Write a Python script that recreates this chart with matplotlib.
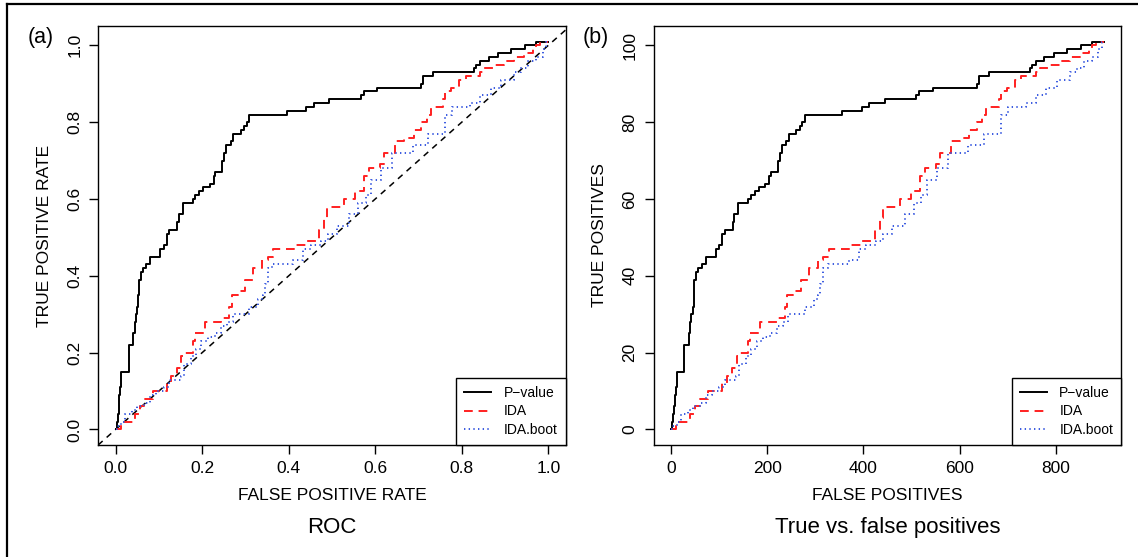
import numpy as np
import matplotlib.pyplot as plt
from matplotlib.lines import Line2D

plt.rcParams['font.family'] = ['Liberation Sans', 'DejaVu Sans']

# counts of false / true positives along each ranking (step points)
pval_fp = [0, 2, 4, 6, 8, 10, 12, 26, 28, 35, 37, 40, 42, 45, 47, 49, 52, 56, 64, 72, 90,
           93, 100, 106, 112, 125, 128, 131, 140, 156, 160, 166, 174, 182, 196, 204, 207,
           220, 222, 226, 230, 240, 245, 260, 268, 273, 278, 356, 397, 412, 444, 510, 516,
           544, 636, 640, 661, 746, 750, 758, 776, 795, 823, 851, 875, 899]
pval_tp = [0, 2, 4, 6, 9, 11, 15, 15, 22, 22, 25, 28, 30, 32, 35, 39, 41, 42, 43, 45, 45,
           47, 48, 51, 52, 52, 54, 56, 59, 59, 60, 61, 62, 63, 64, 66, 67,
           67, 70, 72, 74, 75, 77, 78, 79, 80, 82, 83, 84, 85, 86, 87, 88,
           89, 90, 92, 93, 94, 95, 96, 97, 98, 99, 100, 101, 101]

ida_fp = [0, 11, 40, 50, 60, 77, 107, 116, 127, 137, 141, 160, 165, 186, 220, 236, 242,
          254, 270, 286, 305, 316, 328, 372, 395, 424, 434, 440, 476, 498, 517, 528, 550,
          559, 582, 600, 620, 635, 647, 655, 682, 686, 698, 714, 728, 758, 767, 787, 808,
          829, 849, 868, 875, 883, 899]
ida_tp = [0, 2, 4, 6, 8, 10, 12, 14, 16, 19, 20, 23, 25, 28, 29, 32, 35,
          36, 39, 42, 44, 45, 47, 48, 49, 52, 55, 58, 60, 62, 66, 68, 69,
          72, 75, 76, 78, 80, 82, 84, 86, 88, 89, 91, 92, 93, 94, 95, 96,
          97, 98, 99, 100, 101, 101]

boot_fp = [0, 3, 12, 20, 35, 45, 60, 72, 85, 100, 112, 136, 142, 157, 167, 178, 192, 206,
           220, 232, 244, 278, 297, 306, 310, 316, 326, 370, 390, 406, 427, 441, 460, 486,
           505, 520, 532, 552, 575, 618, 650, 685, 700, 737, 758, 780, 802, 828, 843, 858,
           875, 888, 896, 899]
boot_tp = [0, 1, 2, 4, 5, 6, 7, 9, 10, 11, 13, 14, 17, 19, 21, 23, 24, 25,
           27, 28, 30, 32, 34, 35, 38, 42, 43, 44, 47, 48, 49, 51, 53, 56,
           59, 61, 65, 68, 72, 74, 77, 82, 84, 85, 87, 89, 91, 93, 94, 96,
           97, 99, 101, 101]

n_fp = 900
n_tp = 100

series = [
    ("P\u2212value", pval_fp, pval_tp, "black", None),
    ("IDA", ida_fp, ida_tp, "#ff2020", (0, (4.5, 3.0))),
    ("IDA.boot", boot_fp, boot_tp, "#3a5ae0", (0, (0.7, 1.7))),
]

fig = plt.figure(figsize=(11.38, 5.57), dpi=100)
ax1 = fig.add_axes([0.0864, 0.2011, 0.4106, 0.7522])
ax2 = fig.add_axes([0.5743, 0.2011, 0.4112, 0.7522])


def draw_panel(ax, xscale, yscale, xlabel, ylabel, title, tag):
    for name, fp, tp, col, ls in series:
        x = np.array(fp) / xscale
        y = np.array(tp) / yscale
        if ls is None:
            ax.plot(x, y, color=col, lw=1.4, drawstyle='steps-post', label=name)
        else:
            ax.plot(x, y, color=col, lw=1.4, linestyle=ls, drawstyle='steps-post', label=name)
    leg = ax.legend(loc='lower right', borderaxespad=0, fancybox=False, framealpha=1,
                    edgecolor='black', fontsize=10, handlelength=1.9, handletextpad=0.9,
                    labelspacing=0.3, borderpad=0.6)
    leg.get_frame().set_linewidth(1.0)
    ax.set_xlabel(xlabel, fontsize=12.5, labelpad=8.5)
    ax.set_ylabel(ylabel, fontsize=12.5, labelpad=11)
    ax.tick_params(direction='out', length=6.5, width=1, labelsize=12.5, pad=5)
    for s in ax.spines.values():
        s.set_linewidth(1.0)
    pos = ax.get_position()
    fig.text((pos.x0 + pos.x1) / 2, 0.053, title, ha='center', va='center', fontsize=16)
    fig.text(pos.x0 - 0.0505, 0.933, tag, ha='center', va='center', fontsize=15.5)


draw_panel(ax1, n_fp, n_tp, "FALSE POSITIVE RATE", "TRUE POSITIVE RATE", "ROC", "(a)")
ax1.plot([-0.1, 1.2], [-0.1, 1.2], color='black', lw=1.1, linestyle=(0, (4, 3.5)), zorder=1)
ax1.set_xlim(-0.04, 1.04)
ax1.set_ylim(-0.0404, 1.0504)
ax1.set_xticks([0.0, 0.2, 0.4, 0.6, 0.8, 1.0])
ax1.set_xticklabels(["0.0", "0.2", "0.4", "0.6", "0.8", "1.0"])
ax1.set_yticks([0.0, 0.2, 0.4, 0.6, 0.8, 1.0])
ax1.set_yticklabels(["0.0", "0.2", "0.4", "0.6", "0.8", "1.0"], rotation=90, va='center')

draw_panel(ax2, 1, 1, "FALSE POSITIVES", "TRUE POSITIVES", "True vs. false positives", "(b)")
ax2.set_xlim(-36, 936)
ax2.set_ylim(-4.04, 105.04)
ax2.set_xticks([0, 200, 400, 600, 800])
ax2.set_yticks([0, 20, 40, 60, 80, 100])
ax2.set_yticklabels(["0", "20", "40", "60", "80", "100"], rotation=90, va='center')

# outer frame (left and top edges only)
fig.add_artist(Line2D([7 / 1138, 7 / 1138], [0, 1 - 4.4 / 557], transform=fig.transFigure,
                      color='black', lw=1.6))
fig.add_artist(Line2D([7 / 1138, 1], [1 - 4.4 / 557, 1 - 4.4 / 557], transform=fig.transFigure,
                      color='black', lw=1.6))

fig.savefig("out.png", dpi=100)
